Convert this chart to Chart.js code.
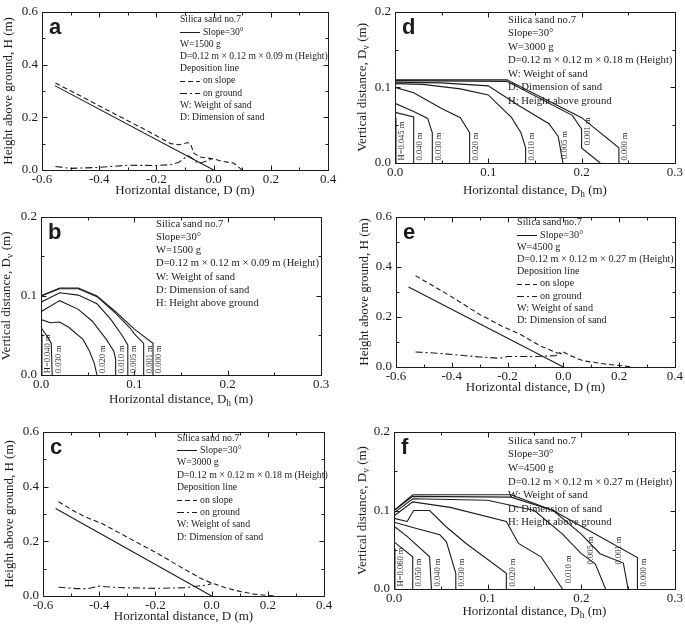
<!DOCTYPE html>
<html>
<head>
<meta charset="utf-8">
<script src="https://cdn.jsdelivr.net/npm/chart.js@4.4.1/dist/chart.umd.min.js"></script>
<style>
  body { margin: 0; background: #fff; width: 685px; height: 626px; position: relative; overflow: hidden; }
  canvas { position: absolute; }
</style>
</head>
<body>
<canvas id="a"></canvas>
<canvas id="b"></canvas>
<canvas id="c"></canvas>
<canvas id="d"></canvas>
<canvas id="e"></canvas>
<canvas id="f"></canvas>
<script>
const INK = '#1b1b1b';
const SERIF = '"Liberation Serif", "Times New Roman", serif';
const DASH = [5, 3];
const DASHDOT = [7, 3, 2, 3];

// tick labels
const profileXTicks = [-0.6, -0.4, -0.2, 0.0, 0.2, 0.4];
const profileYTicks = [0.0, 0.2, 0.4, 0.6];
const contourXTicks = [0.0, 0.1, 0.2, 0.3];
const contourYTicks = [0.0, 0.1, 0.2];

// slope surface (30 deg), same in a, c, e
const slope30 = [[-0.555, 0.32], [0.0, 0.0]];

// a : W=1500 g
const aOnSlope = [[-0.553, 0.33], [-0.45, 0.272], [-0.35, 0.215], [-0.25, 0.159], [-0.2, 0.13], [-0.15, 0.1],
  [-0.12, 0.096], [-0.09, 0.104], [-0.08, 0.098], [-0.07, 0.065], [-0.05, 0.05], [-0.02, 0.045], [0.0, 0.042],
  [0.03, 0.033], [0.07, 0.026], [0.1, 0.0]];
const aOnGround = [[-0.553, 0.013], [-0.5, 0.006], [-0.4, 0.01], [-0.3, 0.018], [-0.2, 0.017], [-0.15, 0.02],
  [-0.12, 0.03], [-0.09, 0.055], [-0.07, 0.04], [-0.055, 0.025], [-0.035, 0.03], [-0.01, 0.04], [0.0, 0.04]];

// c : W=3000 g
const cOnSlope = [[-0.545, 0.345], [-0.48, 0.305], [-0.44, 0.285], [-0.39, 0.265], [-0.3, 0.215], [-0.2, 0.16],
  [-0.1, 0.1], [-0.03, 0.06], [0.0, 0.048], [0.05, 0.03], [0.1, 0.017], [0.15, 0.007], [0.2, 0.002], [0.23, 0.0]];
const cOnGround = [[-0.545, 0.032], [-0.48, 0.027], [-0.44, 0.027], [-0.4, 0.036], [-0.35, 0.032], [-0.3, 0.03],
  [-0.2, 0.028], [-0.1, 0.03], [-0.06, 0.035], [-0.02, 0.04], [0.0, 0.045]];

// e : W=4500 g
const eOnSlope = [[-0.53, 0.365], [-0.4, 0.28], [-0.3, 0.21], [-0.22, 0.163], [-0.15, 0.128], [-0.08, 0.083],
  [-0.02, 0.055], [0.0, 0.06], [0.02, 0.048], [0.07, 0.025], [0.15, 0.012], [0.2, 0.006], [0.25, 0.0]];
const eOnGround = [[-0.53, 0.06], [-0.45, 0.055], [-0.35, 0.045], [-0.3, 0.04], [-0.23, 0.035], [-0.2, 0.042],
  [-0.1, 0.042], [-0.03, 0.045], [0.0, 0.058]];

// b : contours of deposit height, W=1500 g
const bLevels = ['H=0.040 m', '0.030 m', '0.020 m', '0.010 m', '0.005 m', '0.001 m', '0.000 m'];
const bContours = [
  [[0, 0.052], [0.001, 0.045], [0.001, 0]],
  [[0, 0.06], [0.006, 0.05], [0.011, 0.04], [0.012, 0]],
  [[0, 0.07], [0.01, 0.066], [0.02, 0.067], [0.03, 0.06], [0.045, 0.045], [0.052, 0.03], [0.057, 0.015], [0.06, 0]],
  [[0, 0.08], [0.02, 0.094], [0.04, 0.083], [0.055, 0.068], [0.07, 0.045], [0.078, 0.03], [0.08, 0.02], [0.08, 0]],
  [[0, 0.092], [0.02, 0.104], [0.04, 0.101], [0.06, 0.09], [0.075, 0.07], [0.087, 0.05], [0.093, 0.038], [0.093, 0]],
  [[0, 0.1], [0.02, 0.109], [0.04, 0.109], [0.06, 0.099], [0.08, 0.078], [0.095, 0.06], [0.1, 0.052], [0.11, 0.04], [0.11, 0]],
  [[0, 0.1], [0.02, 0.11], [0.04, 0.11], [0.06, 0.1], [0.08, 0.08], [0.1, 0.058], [0.12, 0.04], [0.12, 0]]
];
const bLabelX = [0.002, 0.013, 0.061, 0.081, 0.094, 0.111, 0.121];
const bLabelY = [0.001, 0.001, 0.001, 0.001, 0.001, 0.001, 0.001];

// d : W=3000 g
const dLevels = ['H=0.045 m', '0.040 m', '0.030 m', '0.020 m', '0.010 m', '0.005 m', '0.001 m', '0.000 m'];
const dContours = [
  [[0, 0.06], [0.001, 0.058], [0.001, 0]],
  [[0, 0.067], [0.02, 0.061], [0.02, 0]],
  [[0, 0.079], [0.02, 0.068], [0.035, 0.059], [0.04, 0.04], [0.04, 0]],
  [[0, 0.1], [0.02, 0.093], [0.05, 0.072], [0.07, 0.06], [0.08, 0.04], [0.08, 0]],
  [[0, 0.105], [0.03, 0.104], [0.07, 0.098], [0.1, 0.09], [0.125, 0.06], [0.135, 0.04], [0.14, 0.02], [0.14, 0]],
  [[0, 0.107], [0.05, 0.106], [0.1, 0.102], [0.13, 0.078], [0.165, 0.052], [0.175, 0.035], [0.18, 0]],
  [[0, 0.109], [0.12, 0.108], [0.19, 0.063], [0.2, 0.045], [0.2, 0.02], [0.22, 0]],
  [[0, 0.11], [0.12, 0.11], [0.2, 0.06], [0.24, 0.02], [0.24, 0]]
];
const dLabelX = [0.002, 0.021, 0.041, 0.081, 0.141, 0.176, 0.201, 0.241];
const dLabelY = [0.002, 0.002, 0.002, 0.002, 0.002, 0.004, 0.022, 0.002];

// f : W=4500 g
const fLevels = ['H=0.060 m', '0.050 m', '0.040 m', '0.030 m', '0.020 m', '0.010 m', '0.005 m', '0.001 m', '0.000 m'];
const fContours = [
  [[0, 0.052], [0.001, 0.05], [0.001, 0]],
  [[0, 0.06], [0.02, 0.041], [0.02, 0]],
  [[0, 0.08], [0.014, 0.067], [0.038, 0.041], [0.04, 0]],
  [[0, 0.085], [0.024, 0.077], [0.049, 0.069], [0.056, 0.06], [0.066, 0.02], [0.066, 0]],
  [[0, 0.09], [0.014, 0.086], [0.021, 0.1], [0.038, 0.1], [0.056, 0.079], [0.077, 0.058], [0.12, 0.02], [0.12, 0]],
  [[0, 0.093], [0.02, 0.111], [0.06, 0.104], [0.12, 0.086], [0.133, 0.058], [0.157, 0.041], [0.18, 0]],
  [[0, 0.097], [0.02, 0.115], [0.1, 0.113], [0.15, 0.1], [0.18, 0.07], [0.2, 0.045], [0.215, 0.032], [0.226, 0]],
  [[0, 0.1], [0.02, 0.118], [0.125, 0.117], [0.17, 0.1], [0.2, 0.07], [0.22, 0.045], [0.245, 0.033], [0.25, 0]],
  [[0, 0.1], [0.02, 0.12], [0.125, 0.12], [0.17, 0.1], [0.2, 0.08], [0.26, 0.04], [0.26, 0]]
];
const fLabelX = [0.002, 0.021, 0.041, 0.067, 0.121, 0.181, 0.205, 0.234, 0.261];
const fLabelY = [0.002, 0.002, 0.002, 0.002, 0.002, 0.006, 0.03, 0.03, 0.002];

const profileLegend = (w, h) => [
  { text: 'Silica sand no.7' },
  { text: 'Slope=30°', sample: [] },
  { text: 'W=' + w + ' g' },
  { text: 'D=0.12 m × 0.12 m × ' + h + ' m (Height)' },
  { text: 'Deposition line' },
  { text: 'on slope', sample: DASH },
  { text: 'on ground', sample: DASHDOT },
  { text: 'W: Weight of sand' },
  { text: 'D: Dimension of sand' }
];
const contourLegend = (w, h) => [
  { text: 'Silica sand no.7' },
  { text: 'Slope=30°' },
  { text: 'W=' + w + ' g' },
  { text: 'D=0.12 m × 0.12 m × ' + h + ' m (Height)' },
  { text: 'W: Weight of sand' },
  { text: 'D: Dimension of sand' },
  { text: 'H: Height above ground' }
];

const profileXTitle = [{ t: 'Horizontal distance, D (m)' }];
const profileYTitle = [{ t: 'Height above ground, H (m)' }];
const contourXTitle = [{ t: 'Horizontal distance, D' }, { t: 'h', sub: true }, { t: ' (m)' }];
const contourYTitle = [{ t: 'Vertical distance, D' }, { t: 'v', sub: true }, { t: ' (m)' }];

function pts(arr) { return arr.map(p => ({ x: p[0], y: p[1] })); }
function line(arr, dash) {
  return { data: pts(arr), showLine: true, borderColor: INK, borderWidth: 1.1, borderDash: dash || [],
    pointRadius: 0, fill: false, tension: 0 };
}

function drawRich(ctx, parts, size) {
  let w = 0;
  parts.forEach(p => {
    ctx.font = (p.sub ? size * 0.72 : size) + 'px ' + SERIF;
    p.w = ctx.measureText(p.t).width;
    w += p.w;
  });
  let x = -w / 2;
  parts.forEach(p => {
    ctx.font = (p.sub ? size * 0.72 : size) + 'px ' + SERIF;
    ctx.fillText(p.t, x, p.sub ? size * 0.3 : 0);
    x += p.w;
  });
}

const decoPlugin = {
  id: 'deco',
  afterDraw(chart, args, o) {
    const ctx = chart.ctx, ca = chart.chartArea;
    const xs = chart.scales.x, ys = chart.scales.y;
    ctx.save();
    ctx.strokeStyle = INK;
    ctx.fillStyle = INK;
    ctx.lineWidth = 1;
    ctx.setLineDash([]);
    const L = Math.round(ca.left) + 0.5, R = Math.round(ca.right) + 0.5;
    const T = Math.round(ca.top) + 0.5, B = Math.round(ca.bottom) + 0.5;
    ctx.strokeRect(L, T, R - L, B - T);

    // inward ticks on all four sides
    const tick = (v, axis, len) => {
      ctx.beginPath();
      if (axis === 'x') {
        const p = Math.round(xs.getPixelForValue(v)) + 0.5;
        ctx.moveTo(p, B); ctx.lineTo(p, B - len);
        ctx.moveTo(p, T); ctx.lineTo(p, T + len);
      } else {
        const p = Math.round(ys.getPixelForValue(v)) + 0.5;
        ctx.moveTo(L, p); ctx.lineTo(L + len, p);
        ctx.moveTo(R, p); ctx.lineTo(R - len, p);
      }
      ctx.stroke();
    };
    [['x', o.xTicks], ['y', o.yTicks]].forEach(([axis, tk]) => {
      tk.forEach((v, i) => {
        tick(v, axis, 5);
        if (i < tk.length - 1) tick((v + tk[i + 1]) / 2, axis, 3);
      });
    });

    // contour labels
    if (o.levels) {
      ctx.font = '8.5px ' + SERIF;
      ctx.textAlign = 'left';
      ctx.textBaseline = 'top';
      o.levels.forEach((lab, i) => {
        ctx.save();
        ctx.translate(xs.getPixelForValue(o.labelX[i]) + 1, ys.getPixelForValue(o.labelY[i]) - 1);
        ctx.rotate(-Math.PI / 2);
        ctx.fillText(lab, 0, 0);
        ctx.restore();
      });
    }

    // text block
    const lg = o.legend;
    ctx.textBaseline = 'middle';
    ctx.textAlign = 'left';
    ctx.font = lg.size + 'px ' + SERIF;
    lg.lines.forEach((ln, i) => {
      const x = ca.left + lg.dx, y = ca.top + lg.dy + i * lg.gap;
      if (ln.sample) {
        ctx.beginPath();
        ctx.setLineDash(ln.sample);
        ctx.moveTo(x, Math.round(y) + 0.5);
        ctx.lineTo(x + 20, Math.round(y) + 0.5);
        ctx.stroke();
        ctx.setLineDash([]);
        ctx.fillText(ln.text, x + 23, y);
      } else {
        ctx.fillText(ln.text, x, y);
      }
    });

    // panel letter
    ctx.font = 'bold 22px "Liberation Sans", Arial, sans-serif';
    ctx.textBaseline = 'alphabetic';
    ctx.fillText(o.letter, ca.left + 7, ca.top + 22);

    // axis titles
    ctx.textBaseline = 'middle';
    ctx.save();
    ctx.translate((ca.left + ca.right) / 2, ca.bottom + o.xTitleDy);
    drawRich(ctx, o.xTitle, 13);
    ctx.restore();
    ctx.save();
    ctx.translate(ca.left + o.yTitleDx, (ca.top + ca.bottom) / 2);
    ctx.rotate(-Math.PI / 2);
    drawRich(ctx, o.yTitle, 13);
    ctx.restore();

    ctx.restore();
  }
};

function makePanel(id, box, plot, xTicks, yTicks, datasets, deco) {
  const cv = document.getElementById(id);
  cv.width = box[2] - box[0];
  cv.height = box[3] - box[1];
  cv.style.left = box[0] + 'px';
  cv.style.top = box[1] + 'px';
  deco.xTicks = xTicks;
  deco.yTicks = yTicks;
  const tickFont = { family: SERIF, size: 13 };
  new Chart(cv, {
    type: 'scatter',
    data: { datasets },
    options: {
      responsive: false,
      animation: false,
      layout: { padding: { left: 0, top: plot[1] - box[1], right: box[2] - plot[2], bottom: 0 } },
      plugins: { legend: { display: false }, tooltip: { enabled: false }, deco },
      scales: {
        x: {
          type: 'linear', min: xTicks[0], max: xTicks[xTicks.length - 1],
          afterBuildTicks: s => { s.ticks = xTicks.map(v => ({ value: v })); },
          afterFit: s => { s.height = box[3] - plot[3]; },
          grid: { display: false, drawTicks: false },
          border: { display: false },
          ticks: { font: tickFont, color: INK, padding: 2, maxRotation: 0, autoSkip: false,
            callback: v => Number(v).toFixed(1) }
        },
        y: {
          type: 'linear', min: yTicks[0], max: yTicks[yTicks.length - 1],
          afterBuildTicks: s => { s.ticks = yTicks.map(v => ({ value: v })); },
          afterFit: s => { s.width = plot[0] - box[0]; },
          grid: { display: false, drawTicks: false },
          border: { display: false },
          ticks: { font: tickFont, color: INK, padding: 4, autoSkip: false,
            callback: v => Number(v).toFixed(1) }
        }
      }
    },
    plugins: [decoPlugin]
  });
}

// profiles
makePanel('a', [0, 0, 342, 205], [42, 7, 328, 170], profileXTicks, profileYTicks,
  [line(slope30), line(aOnSlope, DASH), line(aOnGround, DASHDOT)],
  { letter: 'a', xTitle: profileXTitle, yTitle: profileYTitle, xTitleDy: 21, yTitleDx: -33,
    legend: { dx: 138, dy: 8, gap: 12.2, size: 9.6, lines: profileLegend(1500, '0.09') } });
makePanel('c', [0, 412, 342, 626], [43, 432, 324, 596], profileXTicks, profileYTicks,
  [line(slope30), line(cOnSlope, DASH), line(cOnGround, DASHDOT)],
  { letter: 'c', xTitle: profileXTitle, yTitle: profileYTitle, xTitleDy: 21, yTitleDx: -33,
    legend: { dx: 134, dy: 6, gap: 12.4, size: 9.8, lines: profileLegend(3000, '0.18') } });
makePanel('e', [342, 205, 685, 412], [396, 215, 676, 367], profileXTicks, profileYTicks,
  [line(slope30), line(eOnSlope, DASH), line(eOnGround, DASHDOT)],
  { letter: 'e', xTitle: profileXTitle, yTitle: profileYTitle, xTitleDy: 21, yTitleDx: -31,
    legend: { dx: 121, dy: 6, gap: 12.2, size: 10.2, lines: profileLegend(4500, '0.27') } });

// contours
makePanel('b', [0, 205, 342, 412], [41, 216, 321, 375], contourXTicks, contourYTicks,
  bContours.map(c => line(c)),
  { letter: 'b', xTitle: contourXTitle, yTitle: contourYTitle, xTitleDy: 25, yTitleDx: -34,
    levels: bLevels, labelX: bLabelX, labelY: bLabelY,
    legend: { dx: 115, dy: 7, gap: 13.3, size: 10.6, lines: contourLegend(1500, '0.09') } });
makePanel('d', [342, 0, 685, 205], [395, 7, 681, 163], contourXTicks, contourYTicks,
  dContours.map(c => line(c)),
  { letter: 'd', xTitle: contourXTitle, yTitle: contourYTitle, xTitleDy: 28, yTitleDx: -32,
    levels: dLevels, labelX: dLabelX, labelY: dLabelY,
    legend: { dx: 113, dy: 8, gap: 13.5, size: 10.7, lines: contourLegend(3000, '0.18') } });
makePanel('f', [342, 412, 685, 626], [394, 432, 681, 589], contourXTicks, contourYTicks,
  fContours.map(c => line(c)),
  { letter: 'f', xTitle: contourXTitle, yTitle: contourYTitle, xTitleDy: 23, yTitleDx: -31,
    levels: fLevels, labelX: fLabelX, labelY: fLabelY,
    legend: { dx: 114, dy: 9, gap: 13.6, size: 10.7, lines: contourLegend(4500, '0.27') } });
</script>
</body>
</html>
